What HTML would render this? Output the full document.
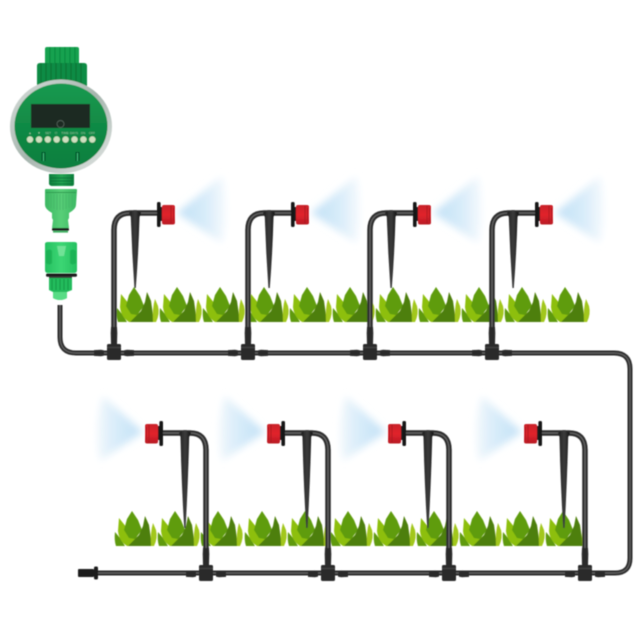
<!DOCTYPE html>
<html><head><meta charset="utf-8"><style>html,body{margin:0;padding:0;background:#fff;width:640px;height:640px;overflow:hidden}svg{display:block}</style></head>
<body>
<svg width="640" height="640" viewBox="0 0 640 640" xmlns="http://www.w3.org/2000/svg" font-family="Liberation Sans, sans-serif">
<defs>
<filter id="b" x="-40%" y="-40%" width="180%" height="180%"><feGaussianBlur stdDeviation="4"/></filter>
<filter id="s" x="-5%" y="-5%" width="110%" height="110%"><feGaussianBlur stdDeviation="0.45"/></filter>
<linearGradient id="sprA" x1="0" y1="0" x2="1" y2="0"><stop offset="0" stop-color="#c0e0f6"/><stop offset="0.55" stop-color="#d6ebf9"/><stop offset="1" stop-color="#f6fafe"/></linearGradient>
<linearGradient id="sprB" x1="1" y1="0" x2="0" y2="0"><stop offset="0" stop-color="#c0e0f6"/><stop offset="0.55" stop-color="#d6ebf9"/><stop offset="1" stop-color="#f0f7fc"/></linearGradient>
<linearGradient id="red" x1="0" y1="0" x2="0" y2="1"><stop offset="0" stop-color="#c9242c"/><stop offset=".5" stop-color="#e2222c"/><stop offset="1" stop-color="#b81c24"/></linearGradient>
<linearGradient id="stk" x1="0" y1="0" x2="1" y2="0"><stop offset="0" stop-color="#1c1c1c"/><stop offset=".5" stop-color="#3c3c3c"/><stop offset="1" stop-color="#141414"/></linearGradient>
<linearGradient id="face" x1="0" y1="0" x2="0" y2="1"><stop offset="0" stop-color="#1a9a50"/><stop offset=".5" stop-color="#118a45"/><stop offset="1" stop-color="#0d7f3f"/></linearGradient>
<linearGradient id="ring" x1="0" y1="0" x2="1" y2="1"><stop offset="0" stop-color="#d8dedb"/><stop offset=".5" stop-color="#a6b5ae"/><stop offset="1" stop-color="#e4e8e6"/></linearGradient>
<linearGradient id="g1" x1="0" y1="0" x2="1" y2="0"><stop offset="0" stop-color="#3cb862"/><stop offset=".5" stop-color="#58cf78"/><stop offset="1" stop-color="#3cb862"/></linearGradient>
<linearGradient id="g3" x1="0" y1="0" x2="1" y2="0"><stop offset="0" stop-color="#25c060"/><stop offset=".5" stop-color="#3cd674"/><stop offset="1" stop-color="#25c060"/></linearGradient>
<linearGradient id="g2" x1="0" y1="0" x2="1" y2="0"><stop offset="0" stop-color="#0d7f3d"/><stop offset=".5" stop-color="#22a452"/><stop offset="1" stop-color="#0d7f3d"/></linearGradient>

<g id="tuft">
<path d="M0 21 L5 27 L10 35 H1 Q-1 29 0 21Z" fill="#5f9a10"/>
<path d="M4 7 L3 20 Q4 30 12 35 L18 35 L22 26 L12 17Z" fill="#8dbf10"/>
<path d="M17 0 L12 8 L9 19 L14 27 L20 28 L27 19 L23 9Z" fill="#5f9c10"/>
<path d="M13 35 L24 24 L28 15 L30 5 L34 14 L37 35Z" fill="#4e7f08"/>
<path d="M36 35 Q35 22 38 12 L41 19 Q43 27 39 35Z" fill="#a2c71e"/>
</g>

<g id="tee">
<path d="M-20 -2.900 L-13 -3.200 L-10 -2.600 V2.600 L-13 3.200 L-20 2.900 Z M20 -2.900 L13 -3.200 L10 -2.600 V2.600 L13 3.200 L20 2.900 Z" fill="#2a2a2a"/>
<path d="M-3.300 -20 L-3 -26 H3 L3.300 -20 L3 -8 H-3Z" fill="#2a2a2a"/>
<rect x="-7" y="-9" width="14" height="16" rx="1.500" fill="#2b2b2b"/>
<rect x="-7" y="-6" width="14" height="1" fill="#444"/>
</g>

<g id="sprR">
<path d="M63 -140 L108 -177 Q116 -145 108 -110 Z" fill="url(#sprA)" filter="url(#b)"/>
<path d="M0 -6 V-123 Q0 -140 16 -140 H43" fill="none" stroke="#2f2f2f" stroke-width="5.500"/>
<path d="M0 -6 V-123 Q0 -140 16 -140 H43" fill="none" stroke="#6a6a6a" stroke-width="1"/>
<path d="M15 -140 Q21 -146 27 -140 L25.500 -136 Q24.500 -100 21.800 -65 H20.400 Q18 -100 16.800 -136 Z" fill="url(#stk)"/>
<rect x="43" y="-151" width="3.600" height="25" rx="1.500" fill="#151515"/>
<rect x="46" y="-146" width="3" height="14" fill="#1a1a1a"/>
<rect x="48" y="-148" width="13" height="19.500" rx="2" fill="url(#red)"/>
<path d="M57 -147 V-130 M59.500 -145 V-132" stroke="#a31a20" stroke-width=".8"/>
<use href="#tee"/>
</g>

<g id="sprL">
<path d="M-63 -142 L-103 -178 Q-112 -150 -106 -113 Z" fill="url(#sprB)" filter="url(#b)"/>
<path d="M0 -6 V-124 Q0 -141 -16 -141 H-43" fill="none" stroke="#2f2f2f" stroke-width="5.500"/>
<path d="M0 -6 V-124 Q0 -141 -16 -141 H-43" fill="none" stroke="#6a6a6a" stroke-width="1"/>
<path d="M-15 -141 Q-21 -147 -27 -141 L-25.500 -137 Q-24.500 -90 -21.800 -46 H-20.400 Q-18 -90 -16.800 -137 Z" fill="url(#stk)"/>
<rect x="-46.600" y="-153" width="3.600" height="25" rx="1.500" fill="#151515"/>
<rect x="-49" y="-148" width="3" height="14" fill="#1a1a1a"/>
<rect x="-61" y="-150" width="13" height="19.500" rx="2" fill="url(#red)"/>
<path d="M-57 -149 V-132 M-59.500 -147 V-134" stroke="#a31a20" stroke-width=".8"/>
<use href="#tee"/>
</g>
</defs>

<g filter="url(#s)">
<use href="#tuft" x="117" y="287"/><use href="#tuft" x="160" y="287"/><use href="#tuft" x="203" y="287"/><use href="#tuft" x="247" y="287"/><use href="#tuft" x="290" y="287"/><use href="#tuft" x="333" y="287"/><use href="#tuft" x="376" y="287"/><use href="#tuft" x="419" y="287"/><use href="#tuft" x="462" y="287"/><use href="#tuft" x="505" y="287"/><use href="#tuft" x="548" y="287"/>
<use href="#tuft" x="115" y="511"/><use href="#tuft" x="158" y="511"/><use href="#tuft" x="201" y="511"/><use href="#tuft" x="245" y="511"/><use href="#tuft" x="288" y="511"/><use href="#tuft" x="331" y="511"/><use href="#tuft" x="374" y="511"/><use href="#tuft" x="417" y="511"/><use href="#tuft" x="460" y="511"/><use href="#tuft" x="503" y="511"/><use href="#tuft" x="546" y="511"/>

<path d="M60 305 V337 Q60 353 76 353 H614 Q630 353 630 369 V558 Q630 573 615 573 H90" fill="none" stroke="#2f2f2f" stroke-width="5"/>
<path d="M60 305 V337 Q60 353 76 353 H614 Q630 353 630 369 V558 Q630 573 615 573 H90" fill="none" stroke="#666" stroke-width="1"/>
<rect x="78" y="569" width="16" height="8" rx="1" fill="#1c1c1c"/>
<rect x="94" y="566.500" width="4" height="13" rx="1.500" fill="#1c1c1c"/>

<use href="#sprR" x="114" y="353"/><use href="#sprR" x="248" y="353"/><use href="#sprR" x="370" y="353"/><use href="#sprR" x="492" y="353"/>
<use href="#sprL" x="206" y="574"/><use href="#sprL" x="328" y="574"/><use href="#sprL" x="449" y="574"/><use href="#sprL" x="585" y="574"/>

<!-- timer -->
<rect x="45" y="47" width="34" height="22" rx="2" fill="#14a24f"/>
<path d="M50 47V66M55 47V66M60 47V66M65 47V66M70 47V66M75 47V66" stroke="#0c8a3f" stroke-width="1.200"/>
<path d="M37 66 Q37 63 40 63 H84 Q87 63 87 66 V88 H37Z" fill="#118c45"/>
<path d="M41 63V84M46 63V84M51 63V84M56 63V84M61 63V84M66 63V84M71 63V84M76 63V84M81 63V84" stroke="#0a7436" stroke-width="1.300"/>
<ellipse cx="61" cy="126.500" rx="51" ry="47" fill="url(#ring)"/>
<ellipse cx="61" cy="126" rx="46.500" ry="42.500" fill="url(#face)"/>
<rect x="31" y="104" width="59" height="24" fill="#1b2a22"/>
<circle cx="60.500" cy="124" r="3.500" fill="none" stroke="#5a6a60" stroke-width=".7"/>
<g fill="#9fc8a8" font-size="3" text-anchor="middle">
<text x="30" y="134">▲</text><text x="39" y="134">▼</text><text x="48" y="134">SET</text><text x="56" y="134">⏻</text><text x="65" y="134">TIME</text><text x="74" y="134">DAYS</text><text x="83" y="134">ON</text><text x="92" y="134">OFF</text>
</g>
<g fill="#cfe0c0"><circle cx="30" cy="139.500" r="3.200"/><circle cx="39" cy="139.500" r="3.200"/><circle cx="47.800" cy="139.500" r="3.200"/><circle cx="56.700" cy="139.500" r="3.200"/><circle cx="65.600" cy="139.500" r="3.200"/><circle cx="74.500" cy="139.500" r="3.200"/><circle cx="83.400" cy="139.500" r="3.200"/><circle cx="92.300" cy="139.500" r="3.200"/></g>
<rect x="41.500" y="152" width="4" height="9" fill="#06552a"/><rect x="75.500" y="152" width="4" height="9" fill="#06552a"/>
<rect x="43" y="153" width="1" height="8" fill="#3ec07a"/><rect x="77" y="153" width="1" height="8" fill="#3ec07a"/>
<path d="M49 174 H74 V184 Q74 186 72 186 H52 Q50 186 49 184Z" fill="url(#g2)"/>
<path d="M50 178H73M50 181H73M50 184H73" stroke="#0a6c34" stroke-width=".7"/>

<!-- connector 1 -->
<path d="M45 190 Q45 189 46 189 H76 Q77 189 77 190 L76 205 Q76 209 69 213 V218 L68 220 L69 228 H52 L53 220 L52 218 V213 Q45 209 45 205Z" fill="url(#g1)"/>
<path d="M46 192.500H76" stroke="#2f9a50" stroke-width="1"/>
<path d="M48 194V207M51 194V208M54 194V209M57 194V210M60 194V210M63 194V210M66 194V209M69 194V208M72 194V207" stroke="#44b266" stroke-width=".7"/>
<rect x="52" y="228" width="17" height="2.800" rx="1" fill="#1b1b1b"/>
<rect x="53" y="230.800" width="15" height="1.800" fill="#3cb161"/>
<!-- connector 2 -->
<path d="M45 244 Q45 242 48 242 H74 Q77 242 77 244 L77 270 Q77 273 74 273 H48 Q45 273 45 270Z" fill="url(#g3)"/>
<path d="M46 251 Q50 248 52 251 V263 Q50 266 46 263Z M76 251 Q72 248 70 251 V263 Q72 266 76 263Z" fill="#19a94e" opacity=".65"/>
<path d="M57 246 H66 L64 256 H59Z" fill="#6fe296"/>
<rect x="46" y="273.500" width="31" height="3.200" rx="1.500" fill="#1a1a1a"/>
<rect x="49" y="276.700" width="23" height="1.500" fill="#333"/>
<path d="M49 278 H72 V290 L67 292 V298 Q60 302 53 298 V292 L49 290Z" fill="#23bb5b"/>
<path d="M52 279V290M56 279V290M60 279V290M64 279V290M68 279V290" stroke="#149745" stroke-width="1"/>
<path d="M53 292 H67 V298 Q60 302 53 298Z" fill="#58dc85"/>
</g>
</svg>
</body></html>
